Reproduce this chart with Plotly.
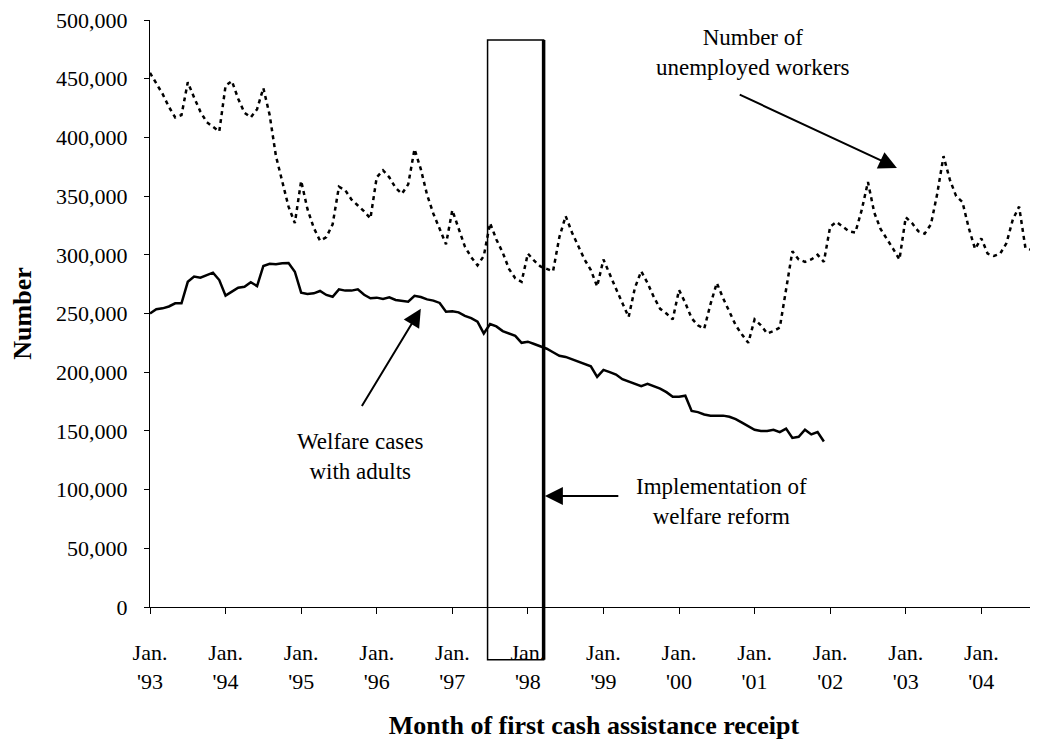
import plotly.graph_objects as go

# one category per month, Jan 1993 .. Oct 2004
months = list(range(142))

tick_months = [0, 12, 24, 36, 48, 60, 72, 84, 96, 108, 120, 132]
tick_labels = ["Jan.<br>'93", "Jan.<br>'94", "Jan.<br>'95", "Jan.<br>'96",
               "Jan.<br>'97", "Jan.<br>'98", "Jan.<br>'99", "Jan.<br>'00",
               "Jan.<br>'01", "Jan.<br>'02", "Jan.<br>'03", "Jan.<br>'04"]

# number of unemployed workers, Jan 1993 .. Oct 2004
unemployed = [
    455000, 446000, 437000, 426000, 417000, 419000, 447000, 434000, 422000, 413000, 409000, 405000,
    444000, 448000, 433000, 421000, 417000, 424000, 442000, 419000, 384000, 362000, 341000, 327000,
    363000, 339000, 323000, 312000, 315000, 326000, 358000, 355000, 347000, 342000, 337000, 331000,
    366000, 372000, 366000, 357000, 352000, 360000, 390000, 373000, 351000, 335000, 322000, 309000,
    338000, 322000, 307000, 298000, 291000, 299000, 327000, 313000, 302000, 288000, 280000, 277000,
    301000, 295000, 290000, 288000, 286000, 315000, 333000, 319000, 308000, 296000, 287000, 273000,
    296000, 283000, 271000, 259000, 247000, 272000, 286000, 276000, 264000, 254000, 250000, 245000,
    270000, 259000, 246000, 240000, 237000, 258000, 276000, 263000, 252000, 240000, 232000, 225000,
    245000, 240000, 233000, 235000, 238000, 270000, 303000, 296000, 294000, 296000, 300000, 294000,
    324000, 328000, 324000, 320000, 319000, 338000, 362000, 336000, 322000, 314000, 305000, 296000,
    332000, 327000, 320000, 318000, 326000, 352000, 384000, 364000, 350000, 345000, 323000, 305000,
    314000, 301000, 299000, 301000, 310000, 330000, 341000, 306000, 304000, 302000,
]

# welfare cases with adults, Jan 1993 .. Dec 2001
welfare = [
    250000, 253600, 254400, 256000, 258700, 258700, 277000, 281400, 280500, 282800, 284800, 278500,
    265200, 268600, 272000, 272800, 276600, 273400, 290500, 292400, 291900, 292800, 293000, 285600,
    267700, 266600, 267200, 269200, 265800, 264300, 270600, 269500, 269500, 270600, 266000, 263000,
    263500, 262400, 263800, 261500, 260600, 260000, 265000, 264000, 262000, 261000, 259000, 251500,
    252000, 251000, 248000, 246000, 243000, 233000, 241000, 239000, 235000, 233000, 231000, 225000,
    226000, 224000, 222000, 220000, 217000, 214000, 213000, 211000, 209000, 207000, 205000, 196000,
    202000, 200000, 198000, 194000, 192000, 190000, 188000, 190000, 188000, 186000, 183000, 179000,
    179000, 180000, 167000, 166000, 164000, 163000, 163000, 163000, 162000, 160000, 157000, 154000,
    151000, 150000, 150000, 151000, 149000, 152000, 144000, 145000, 151000, 147000, 149000, 141000,
]

# months bounding the welfare reform box
reform_start = 53.6
reform_end = 62.5

serif = "Liberation Serif"
x_max = months[-1]

fig = go.Figure()
fig.add_trace(go.Scatter(x=months[:len(welfare)], y=welfare, mode="lines",
                         line=dict(color="black", width=2.5), name="Welfare cases with adults"))
fig.add_trace(go.Scatter(x=months, y=unemployed, mode="lines",
                         line=dict(color="black", width=2.5, dash="4px,4px"),
                         name="Number of unemployed workers"))

# reform box, drawn past the bottom of the plot like the original
fig.add_shape(type="rect", xref="paper", yref="paper",
              x0=reform_start / x_max, x1=reform_end / x_max, y0=-0.09, y1=0.966,
              line=dict(color="black", width=1.5))
fig.add_shape(type="line", xref="paper", yref="paper",
              x0=reform_end / x_max, x1=reform_end / x_max, y0=-0.09, y1=0.966,
              line=dict(color="black", width=3.5))

txt = dict(family=serif, size=23, color="black")
arrow = dict(text="", showarrow=True, arrowhead=2, arrowsize=1.8, arrowwidth=2,
             arrowcolor="black", xref="x", yref="y", axref="x", ayref="y")

fig.add_annotation(x=95.7, y=472000, text="Number of<br>unemployed workers",
                   showarrow=False, font=txt, xref="x", yref="y")
fig.add_annotation(x=118.6, y=374000, ax=93.4, ay=437000, **arrow)

fig.add_annotation(x=33.5, y=128000, text="Welfare cases<br>with adults",
                   showarrow=False, font=txt, xref="x", yref="y")
fig.add_annotation(x=43.0, y=254000, ax=33.5, ay=170000, **arrow)

fig.add_annotation(x=90.8, y=90000, text="Implementation of<br>welfare reform",
                   showarrow=False, font=txt, xref="x", yref="y")
fig.add_annotation(x=62.7, y=94500, ax=74.6, ay=94500, **arrow)

# page body adds an 8px offset, so the figure is 8px smaller on each side
fig.update_layout(
    width=1030, height=735,
    margin=dict(l=142, r=0, t=12, b=136),
    plot_bgcolor="white", paper_bgcolor="white",
    showlegend=False,
    font=dict(family=serif, size=22, color="black"),
)
fig.update_xaxes(
    range=[0, x_max], tickvals=tick_months, ticktext=tick_labels,
    showline=True, linecolor="black", linewidth=1,
    ticks="outside", ticklen=6, tickcolor="black",
    ticklabelstandoff=20, ticklabeloverflow="allow",
    showgrid=False, zeroline=False, automargin=False,
    title=dict(text="<b>Month of first cash assistance receipt</b>", standoff=22),
)
fig.update_yaxes(
    range=[0, 500000], dtick=50000, tickformat=",",
    showline=True, linecolor="black", linewidth=1,
    ticks="outside", ticklen=5, tickcolor="black",
    ticklabelstandoff=12, ticklabeloverflow="allow",
    showgrid=False, zeroline=False, automargin=False,
    title=dict(text="<b>Number</b>", standoff=18),
)

fig.write_html("out.html")
